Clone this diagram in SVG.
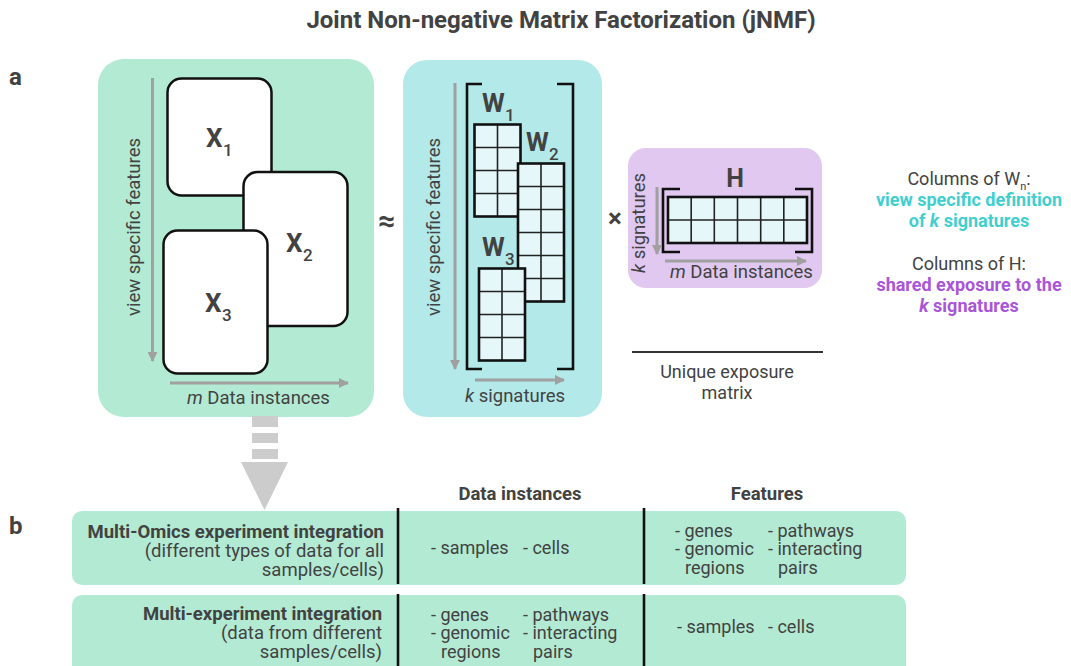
<svg xmlns="http://www.w3.org/2000/svg" width="1071" height="666" viewBox="0 0 1071 666">
  <style>
    text { font-family: Roboto, "Liberation Sans", sans-serif; fill: #424242; }
    .title { font-size: 24px; font-weight: bold; }
    .panel-letter { font-size: 24px; font-weight: bold; }
    .axis { font-size: 18.5px; }
    .big { font-size: 26px; font-weight: bold; }
    .sub { font-size: 17px; font-weight: 500; }
    .note { font-size: 18px; text-anchor: middle; }
    .note-b { font-size: 18px; font-weight: bold; text-anchor: middle; }
    .cyan { fill: #3fcfcf; }
    .purple { fill: #a955d8; }
    .card { fill: #ffffff; stroke: #111; stroke-width: 2.5; }
    .cells { fill: #e6f7f9; }
    .grid { stroke: #222; stroke-width: 1.6; fill: none; }
    .frame { fill: none; stroke: #111; stroke-width: 2.6; }
    .bracket { fill: none; stroke: #111; stroke-width: 2.6; }
    .gray-arrow { stroke: #a0a0a0; stroke-width: 3; fill: none; marker-end: url(#tip); }
    .row { fill: #b3ead3; }
    .row-head { font-size: 18.5px; text-anchor: end; }
    .row-head-b { font-size: 18.5px; font-weight: bold; text-anchor: end; }
    .cell-txt { font-size: 18px; }
    .col-head { font-size: 18.5px; font-weight: bold; text-anchor: middle; }
    .divider { stroke: #111; stroke-width: 2.6; }
  </style>
  <defs>
    <marker id="tip" viewBox="0 0 10 10" refX="9" refY="5" markerWidth="10" markerHeight="10" markerUnits="userSpaceOnUse" orient="auto">
      <path d="M0,0 L10,5 L0,10 Z" fill="#a0a0a0"/>
    </marker>
  </defs>

  <text class="title" x="561" y="28" text-anchor="middle">Joint Non-negative Matrix Factorization (jNMF)</text>
  <text class="panel-letter" x="9" y="85">a</text>
  <text class="panel-letter" x="9" y="534">b</text>

  <!-- data views X1..X3 -->
  <g id="views">
    <rect x="98" y="59" width="276" height="358" rx="26" fill="#b3ead3"/>
    <rect class="card" x="167.5" y="78.5" width="104" height="117" rx="14"/>
    <text class="big" x="206" y="147">X</text><text class="sub" x="223" y="156">1</text>
    <rect class="card" x="243.5" y="172" width="104" height="154" rx="14"/>
    <text class="big" x="286" y="252">X</text><text class="sub" x="303" y="261">2</text>
    <rect class="card" x="163.5" y="230.5" width="104" height="143" rx="14"/>
    <text class="big" x="205" y="312">X</text><text class="sub" x="222" y="321">3</text>
    <text class="axis" transform="translate(140,227) rotate(-90)" text-anchor="middle">view specific features</text>
    <text class="axis" x="187" y="404"><tspan font-style="italic">m</tspan> Data instances</text>
  </g>

  <text x="387" y="231" font-size="30" font-weight="bold" text-anchor="middle">≈</text>

  <!-- signature matrices W1..W3 -->
  <g id="signatures">
    <rect x="403" y="60" width="199" height="357" rx="24" fill="#b3e9e9"/>
    <path class="bracket" d="M482,84 H467 V369 H482 M557,84 H573 V369 H557"/>
    <text class="big" x="482" y="112">W</text><text class="sub" x="505" y="121">1</text>
    <g>
      <rect class="cells" x="474.5" y="124.5" width="46" height="92"/>
      <path class="grid" d="M497.5,124.5 V216.5 M474.5,147.5 H520.5 M474.5,170.5 H520.5 M474.5,193.5 H520.5"/>
      <rect class="frame" x="474.5" y="124.5" width="46" height="92"/>
    </g>
    <text class="big" x="526" y="151">W</text><text class="sub" x="549" y="160">2</text>
    <g>
      <rect class="cells" x="518" y="163.5" width="46" height="138"/>
      <path class="grid" d="M541,163.5 V301.5 M518,186.5 H564 M518,209.5 H564 M518,232.5 H564 M518,255.5 H564 M518,278.5 H564"/>
      <rect class="frame" x="518" y="163.5" width="46" height="138"/>
    </g>
    <text class="big" x="482" y="256">W</text><text class="sub" x="505" y="265">3</text>
    <g>
      <rect class="cells" x="479" y="268.5" width="46" height="92"/>
      <path class="grid" d="M502,268.5 V360.5 M479,291.5 H525 M479,314.5 H525 M479,337.5 H525"/>
      <rect class="frame" x="479" y="268.5" width="46" height="92"/>
    </g>
    <text class="axis" transform="translate(440,227) rotate(-90)" text-anchor="middle">view specific features</text>
    <text class="axis" x="465" y="402"><tspan font-style="italic">k</tspan> signatures</text>
  </g>

  <text x="615" y="227" font-size="26" font-weight="bold" text-anchor="middle">×</text>

  <!-- exposure matrix H -->
  <g id="exposure">
    <rect x="628" y="148" width="194" height="140" rx="18" fill="#e0c8f0"/>
    <text x="735" y="187" font-size="25" font-weight="bold" text-anchor="middle">H</text>
    <path class="bracket" d="M680,189 H663 V252 H680 M795,189 H812 V252 H795"/>
    <rect class="cells" x="668" y="197" width="139" height="46"/>
    <path class="grid" d="M691.2,197 V243 M714.3,197 V243 M737.5,197 V243 M760.7,197 V243 M783.8,197 V243 M668,220 H807"/>
    <rect class="frame" x="668" y="197" width="139" height="46"/>
    <text class="axis" transform="translate(645,223) rotate(-90)" text-anchor="middle"><tspan font-style="italic">k</tspan> signatures</text>
    <text class="axis" x="670" y="278"><tspan font-style="italic">m</tspan> Data instances</text>
  </g>

  <!-- gray axis arrows -->
  <g id="connectors">
    <line class="gray-arrow" x1="152.5" y1="78" x2="152.5" y2="361"/>
    <line class="gray-arrow" x1="170" y1="383" x2="348" y2="383"/>
    <line class="gray-arrow" x1="455" y1="83" x2="455" y2="369"/>
    <line class="gray-arrow" x1="475" y1="380" x2="564" y2="380"/>
    <line class="gray-arrow" x1="657" y1="187" x2="657" y2="254"/>
    <line class="gray-arrow" x1="665" y1="261" x2="806" y2="261"/>
    <!-- dashed block arrow from panel a to panel b -->
    <g fill="#cccccc">
      <rect x="252" y="416" width="26" height="11"/>
      <rect x="252" y="433" width="26" height="10"/>
      <rect x="252" y="449" width="26" height="10"/>
      <path d="M241,462 H288 L264.5,510 Z"/>
    </g>
  </g>

  <g id="unique-exposure">
    <line x1="632" y1="352" x2="823" y2="352" stroke="#333" stroke-width="2"/>
    <text class="note" x="727" y="378">Unique exposure</text>
    <text class="note" x="727" y="399">matrix</text>
  </g>

  <g id="legend">
    <text class="note" x="969" y="185">Columns of W<tspan font-size="11" dy="5">n</tspan><tspan dy="-5">:</tspan></text>
    <text class="note-b cyan" x="969" y="206">view specific definition</text>
    <text class="note-b cyan" x="969" y="227">of <tspan font-style="italic">k</tspan> signatures</text>
    <text class="note" x="969" y="270">Columns of H:</text>
    <text class="note-b purple" x="969" y="291">shared exposure to the</text>
    <text class="note-b purple" x="969" y="312"><tspan font-style="italic">k</tspan> signatures</text>
  </g>

  <!-- panel b table -->
  <g id="table-header">
    <text class="col-head" x="520" y="500">Data instances</text>
    <text class="col-head" x="767" y="500">Features</text>
  </g>

  <g id="row-multiomics">
    <rect class="row" x="72" y="511" width="834" height="74" rx="10"/>
    <text class="row-head-b" x="384" y="538">Multi-Omics experiment integration</text>
    <text class="row-head" x="384" y="557">(different types of data for all</text>
    <text class="row-head" x="384" y="576">samples/cells)</text>
    <text class="cell-txt" x="431" y="554">- samples</text>
    <text class="cell-txt" x="523" y="554">- cells</text>
    <text class="cell-txt" x="675" y="537">- genes</text>
    <text class="cell-txt" x="675" y="555">- genomic</text>
    <text class="cell-txt" x="685" y="574">regions</text>
    <text class="cell-txt" x="768" y="537">- pathways</text>
    <text class="cell-txt" x="768" y="555">- interacting</text>
    <text class="cell-txt" x="778" y="574">pairs</text>
    <line class="divider" x1="398" y1="508" x2="398" y2="584"/>
    <line class="divider" x1="644" y1="508" x2="644" y2="584"/>
  </g>

  <g id="row-multiexperiment">
    <rect class="row" x="72" y="595" width="834" height="90" rx="10"/>
    <text class="row-head-b" x="382" y="620">Multi-experiment integration</text>
    <text class="row-head" x="382" y="639">(data from different</text>
    <text class="row-head" x="382" y="658">samples/cells)</text>
    <text class="cell-txt" x="431" y="621">- genes</text>
    <text class="cell-txt" x="431" y="639">- genomic</text>
    <text class="cell-txt" x="441" y="658">regions</text>
    <text class="cell-txt" x="523" y="621">- pathways</text>
    <text class="cell-txt" x="523" y="639">- interacting</text>
    <text class="cell-txt" x="533" y="658">pairs</text>
    <text class="cell-txt" x="677" y="633">- samples</text>
    <text class="cell-txt" x="768" y="633">- cells</text>
    <line class="divider" x1="398" y1="594" x2="398" y2="666"/>
    <line class="divider" x1="644" y1="594" x2="644" y2="666"/>
  </g>
</svg>
